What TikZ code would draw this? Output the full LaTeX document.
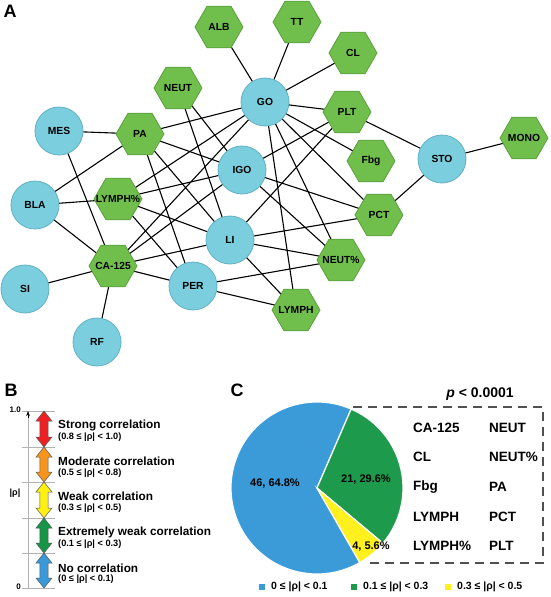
\documentclass[tikz,border=0pt]{standalone}
\usepackage{fontspec}
\setmainfont{Liberation Sans}
\usetikzlibrary{shapes.geometric,backgrounds,arrows.meta}
\definecolor{orgfill}{RGB}{122,206,222}
\definecolor{orgline}{RGB}{98,176,196}
\definecolor{labfill}{RGB}{112,191,76}
\definecolor{labline}{RGB}{90,160,60}
\definecolor{cred}{RGB}{237,32,36}
\definecolor{corange}{RGB}{247,148,29}
\definecolor{cyellow}{RGB}{255,240,20}
\definecolor{cgreen}{RGB}{20,150,70}
\definecolor{cblue}{RGB}{58,154,217}
\definecolor{piegreen}{RGB}{30,154,76}
\definecolor{pieblue}{RGB}{58,155,216}
\definecolor{pieyellow}{RGB}{255,240,30}
\definecolor{boxgray}{RGB}{80,80,80}
\begin{document}
\begin{tikzpicture}[x=1pt,y=-1pt,
  org/.style={circle,draw=orgline,fill=orgfill,line width=0.8pt,minimum size=48pt,inner sep=0pt,font=\fontsize{10.3}{12}\selectfont\bfseries},
  lab/.style={regular polygon,regular polygon sides=6,draw=labline,fill=labfill,line width=0.8pt,minimum size=48pt,inner sep=0pt},
  labtxt/.style={font=\fontsize{10.3}{12}\selectfont\bfseries,inner sep=0pt},
  link/.style={line width=1.1pt,black},
  panel/.style={font=\fontsize{18}{20}\selectfont\bfseries},
  head/.style={anchor=west,inner sep=0pt,font=\fontsize{11.8}{13}\selectfont\bfseries},
  sub/.style={anchor=west,inner sep=0pt,font=\fontsize{9.2}{10}\selectfont\bfseries},
  tab/.style={anchor=west,inner sep=0pt,font=\fontsize{13.5}{15}\selectfont\bfseries},
  pielab/.style={inner sep=0pt,font=\fontsize{11}{13}\selectfont\bfseries},
  leg/.style={anchor=west,inner sep=0pt,font=\fontsize{10.5}{12}\selectfont\bfseries}
]
\useasboundingbox (0,0) rectangle (550,597);

% ---------- Panel A ----------
\node[panel] (pa-label) at (10,11) {A};
\node[org] (go) at (265,102) {GO};
\node[org] (igo) at (242,170) {IGO};
\node[org] (sto) at (442,159) {STO};
\node[org] (li) at (230,240) {LI};
\node[org] (per) at (193,286) {PER};
\node[org] (mes) at (59,131) {MES};
\node[org] (bla) at (35,205) {BLA};
\node[org] (si) at (25,289) {SI};
\node[org] (rf) at (97,342) {RF};

\node[lab,label={[labtxt]center:ALB}] (alb) at (219,27) {};
\node[lab,label={[labtxt]center:TT}] (tt) at (297,22) {};
\node[lab,label={[labtxt]center:CL}] (cl) at (353,53) {};
\node[lab,label={[labtxt]center:NEUT}] (neut) at (178,88) {};
\node[lab,label={[labtxt]center:PA}] (pa) at (140,134) {};
\node[lab,label={[labtxt]center:PLT}] (plt) at (347,112) {};
\node[lab,label={[labtxt]center:Fbg}] (fbg) at (371,161) {};
\node[lab,label={[labtxt]center:MONO}] (mono) at (524,138) {};
\node[lab,label={[labtxt]center:LYMPH\%}] (lymphp) at (118,199) {};
\node[lab,label={[labtxt]center:PCT}] (pct) at (379,215) {};
\node[lab,label={[labtxt]center:CA-125}] (ca) at (113,266) {};
\node[lab,label={[labtxt]center:NEUT\%}] (neutp) at (341,260) {};
\node[lab,label={[labtxt]center:LYMPH}] (lymph) at (296,310) {};

\begin{scope}[on background layer]
\foreach \a/\b in {go/alb,go/tt,go/cl,go/plt,go/fbg,go/pa,go/lymphp,go/ca,go/pct,go/neutp,go/lymph,
  igo/pa,igo/neut,igo/plt,igo/pct,igo/neutp,igo/lymphp,igo/ca,
  li/pa,li/neut,li/lymphp,li/ca,li/plt,li/pct,li/neutp,li/lymph,
  per/pa,per/lymphp,per/ca,per/neutp,per/lymph,
  sto/plt,sto/mono,sto/pct,
  mes/pa,mes/ca,bla/pa,bla/lymphp,bla/ca,si/ca,rf/ca}
  \draw[link] (\a.center) -- (\b.center);
\end{scope}

% ---------- Panel B ----------
\node[panel] (pb-label) at (11,390) {B};
\foreach \yy in {411,447,482,518,553,588}
  \draw[gray!60,line width=0.8pt] (22,\yy) -- (55,\yy);
\draw[gray!60,line width=0.8pt] (28,588) -- (28,416);
\draw[black,-{Stealth[length=5pt,width=3.5pt]}] (28,418) -- (28,411);
\node[anchor=east,inner sep=0pt,font=\fontsize{8}{9}\selectfont\bfseries] (one) at (21,410) {1.0};
\node[anchor=east,inner sep=0pt,font=\fontsize{8}{9}\selectfont\bfseries] (zero) at (21,587) {0};
\node[inner sep=0pt,font=\fontsize{9}{10}\selectfont\bfseries] (rho) at (15,493) {|ρ|};
\foreach \yt/\yb/\cc in {411/447/cred,447/482/corange,482/518/cyellow,518/553/cgreen,553/588/cblue}
  \filldraw[fill=\cc,draw=black!65,line width=0.5pt]
    (44,\yt) -- (52,\yt+10) -- (48.2,\yt+10) -- (48.2,\yb-10) -- (52,\yb-10) -- (44,\yb)
    -- (36,\yb-10) -- (39.8,\yb-10) -- (39.8,\yt+10) -- (36,\yt+10) -- cycle;
\node[head] (h1) at (58,425) {Strong correlation};
\node[sub] (s1) at (58,437.5) {(0.8 ≤ |ρ| < 1.0)};
\node[head] (h2) at (58,461) {Moderate correlation};
\node[sub] (s2) at (58,473.5) {(0.5 ≤ |ρ| < 0.8)};
\node[head] (h3) at (58,496) {Weak correlation};
\node[sub] (s3) at (58,508.5) {(0.3 ≤ |ρ| < 0.5)};
\node[head] (h4) at (58,532) {Extremely weak correlation};
\node[sub] (s4) at (58,544.5) {(0.1 ≤ |ρ| < 0.3)};
\node[head] (h5) at (58,568) {No correlation};
\node[sub] (s5) at (58,579.5) {(0 ≤ |ρ| < 0.1)};

% ---------- Panel C ----------
\node[panel] (pc-label) at (237,390) {C};
\begin{scope}[shift={(317,488)},yscale=-1]
  \filldraw[fill=pieblue,draw=white,line width=1.2pt] (0,0) -- (66.6:86) arc[start angle=66.6,end angle=299.88,radius=86] -- cycle;
  \filldraw[fill=piegreen,draw=white,line width=1.2pt] (0,0) -- (-39.96:86) arc[start angle=-39.96,end angle=66.6,radius=86] -- cycle;
  \filldraw[fill=pieyellow,draw=white,line width=1.2pt] (0,0) -- (-60.12:86) arc[start angle=-60.12,end angle=-39.96,radius=86] -- cycle;
\end{scope}
\node[pielab] (p1) at (275,484) {46, 64.8\%};
\node[pielab] (p2) at (366,480) {21, 29.6\%};
\node[pielab] (p3) at (371,547) {4, 5.6\%};
\draw[boxgray,line width=1.2pt,dash pattern=on 9pt off 6pt] (353,407) -- (543,407) -- (543,563) -- (370,563);
\node[inner sep=0pt,font=\fontsize{14}{16}\selectfont\bfseries] (pval) at (480,394) {\textit{p} < 0.0001};
\node[tab] (t1) at (413,428) {CA-125};
\node[tab] (t2) at (413,457) {CL};
\node[tab] (t3) at (413,487) {Fbg};
\node[tab] (t4) at (413,517) {LYMPH};
\node[tab] (t5) at (413,546) {LYMPH\%};
\node[tab] (u1) at (489,428) {NEUT};
\node[tab] (u2) at (489,457) {NEUT\%};
\node[tab] (u3) at (489,487) {PA};
\node[tab] (u4) at (489,517) {PCT};
\node[tab] (u5) at (489,546) {PLT};
\fill[pieblue] (259,584) rectangle (265,590);
\node[leg] (l1) at (271,587) {0 ≤ |ρ| < 0.1};
\fill[piegreen] (351,584) rectangle (357,590);
\node[leg] (l2) at (363,587) {0.1 ≤ |ρ| < 0.3};
\fill[pieyellow] (445,584) rectangle (451,590);
\node[leg] (l3) at (457,587) {0.3 ≤ |ρ| < 0.5};
\end{tikzpicture}
\end{document}
